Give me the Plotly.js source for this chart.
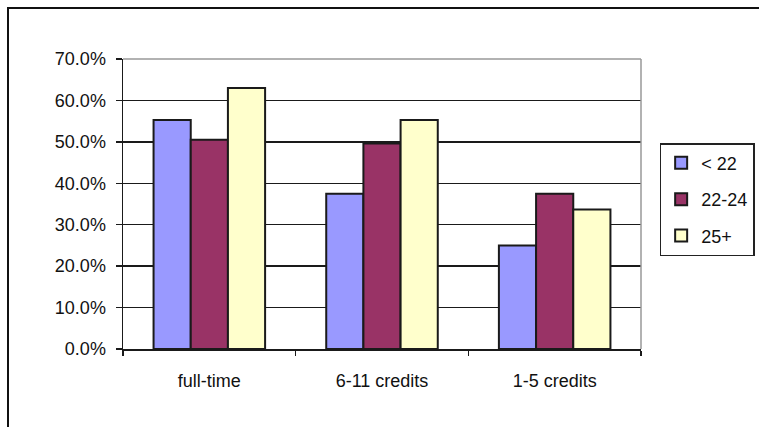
<!DOCTYPE html>
<html>
<head>
<meta charset="utf-8">
<script src="https://cdn.plot.ly/plotly-3.0.1.min.js"></script>
<style>
html,body{margin:0;padding:0;background:#fff;overflow:hidden;}
#wrap{position:relative;width:759px;height:427px;}
#chart{position:absolute;left:0;top:0;width:759px;height:427px;}
#frame{position:absolute;left:7px;top:7px;width:800px;height:500px;border:2px solid #111;pointer-events:none;box-sizing:border-box;}
</style>
</head>
<body>
<div id="wrap"><div id="chart"></div><div id="frame"></div></div>
<script>
const categories = ["full-time", "6-11 credits", "1-5 credits"];
const seriesNames = ["< 22", "22-24", "25+"];
const under22 = [55.3, 37.5, 25.0];
const age22to24 = [50.5, 49.6, 37.5];
const age25plus = [63.0, 55.3, 33.7];
const yTickValues = [0, 10, 20, 30, 40, 50, 60, 70];
const colors = ["#9999FF", "#993366", "#FFFFCC"];

const seriesValues = [under22, age22to24, age25plus];
const traces = seriesValues.map((vals, i) => ({
  type: "bar",
  name: seriesNames[i],
  x: categories,
  y: vals,
  legendgroup: "g" + i,
  marker: {color: colors[i], line: {color: "#1a1a1a", width: 2}},
  hoverinfo: "none"
}));

const layout = {
  width: 759, height: 427,
  margin: {l: 123, r: 118, t: 59, b: 78, autoexpand: false},
  paper_bgcolor: "#fff", plot_bgcolor: "#fff",
  font: {family: "Liberation Sans, Arial, sans-serif", size: 18, color: "#111"},
  barmode: "group",
  bargap: 0.354,
  bargroupgap: 0,
  showlegend: true,
  legend: {
    x: 1.036, y: 0.71, xanchor: "left", yanchor: "top",
    bordercolor: "#222", borderwidth: 1.5, bgcolor: "#fff",
    traceorder: "grouped", tracegroupgap: 10,
    font: {family: "Liberation Sans, Arial, sans-serif", size: 18, color: "#111"},
    itemwidth: 30
  },
  xaxis: {
    type: "category",
    showline: true, linecolor: "#1a1a1a", linewidth: 1.5,
    ticks: "outside", ticklen: 5, tickcolor: "#1a1a1a", tickwidth: 1.5,
    tickson: "boundaries",
    showgrid: false,
    tickfont: {size: 18},
    ticklabelstandoff: 15
  },
  yaxis: {
    range: [0, 70],
    tickvals: yTickValues,
    ticktext: yTickValues.map(v => v.toFixed(1) + "%"),
    showline: true, linecolor: "#1a1a1a", linewidth: 1.5,
    ticks: "outside", ticklen: 6, tickcolor: "#1a1a1a", tickwidth: 1.5,
    showgrid: true, gridcolor: "#1a1a1a", gridwidth: 1.5,
    zeroline: false,
    tickfont: {size: 18},
    ticklabelstandoff: 6
  },
  shapes: [
    {type: "line", xref: "paper", yref: "paper", x0: 0, x1: 1, y0: 1, y1: 1, line: {color: "#999", width: 1.5}},
    {type: "line", xref: "paper", yref: "paper", x0: 1, x1: 1, y0: 0, y1: 1, line: {color: "#999", width: 1.5}}
  ]
};

Plotly.newPlot("chart", traces, layout, {staticPlot: true, displayModeBar: false});
</script>
</body>
</html>
